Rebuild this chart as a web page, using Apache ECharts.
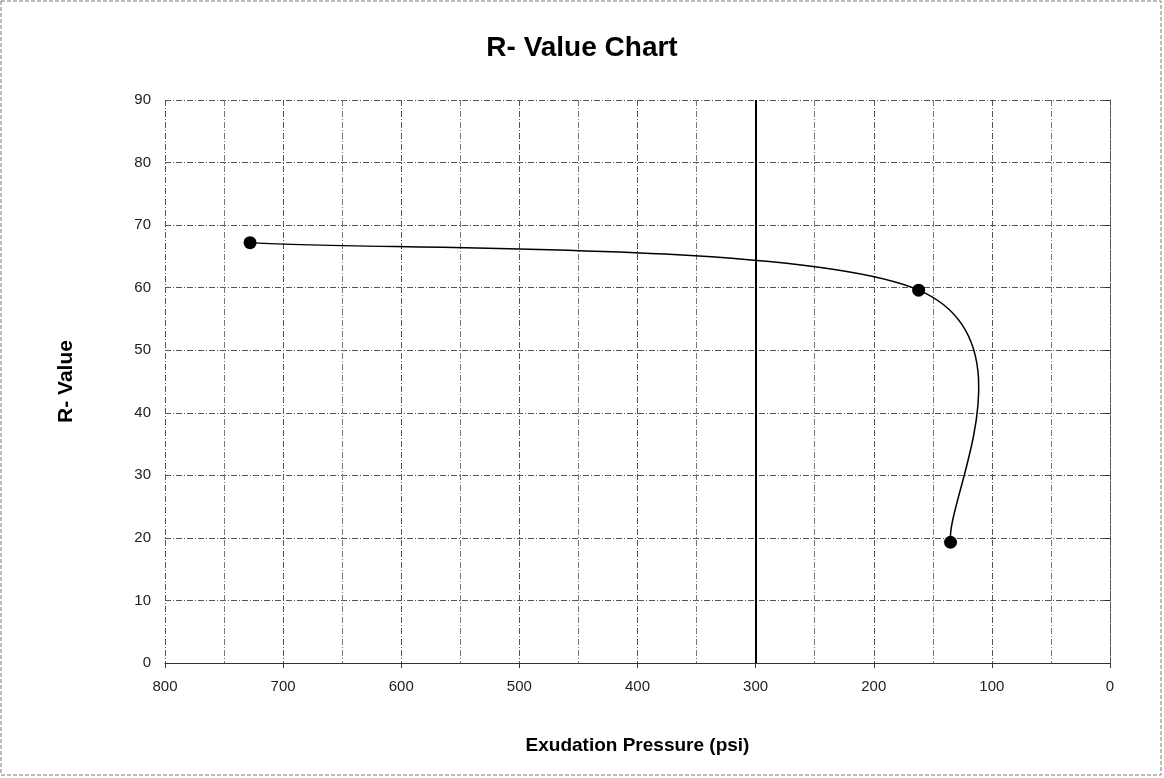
<!DOCTYPE html>
<html>
<head>
<meta charset="utf-8">
<title>R- Value Chart</title>
<script src="https://cdn.jsdelivr.net/npm/echarts@6/dist/echarts.min.js"></script>
<style>
  html, body { margin: 0; padding: 0; background: #fff; }
  #chart { width: 1164px; height: 778px; }
</style>
</head>
<body>
<div id="chart"></div>
<script>
// exudation pressure (psi) and R-value readings
var pressure = [728, 162, 135];
var rValue = [67.2, 59.6, 19.3];
var xTicks = [0, 100, 200, 300, 400, 500, 600, 700, 800];
var yTicks = [0, 10, 20, 30, 40, 50, 60, 70, 80, 90];

var points = [];
for (var i = 0; i < pressure.length; i++) {
  points.push([pressure[i], rValue[i]]);
}

// excel-style smoothed line: catmull-rom through the data points, in pixel space
function renderCurve(params, api) {
  if (params.dataIndex !== 0) return null;
  var p = [];
  for (var j = 0; j < pressure.length; j++) {
    p.push(api.coord([pressure[j], rValue[j]]));
  }
  var kids = [];
  for (var k = 0; k < p.length - 1; k++) {
    var a = p[k - 1] || p[k], b = p[k], c = p[k + 1], d = p[k + 2] || p[k + 1];
    kids.push({
      type: 'bezierCurve',
      shape: {
        x1: b[0], y1: b[1],
        cpx1: b[0] + (c[0] - a[0]) / 6, cpy1: b[1] + (c[1] - a[1]) / 6,
        cpx2: c[0] - (d[0] - b[0]) / 6, cpy2: c[1] - (d[1] - b[1]) / 6,
        x2: c[0], y2: c[1]
      },
      style: { stroke: '#000', lineWidth: 1.5, fill: null }
    });
  }
  return { type: 'group', children: kids };
}

var chart = echarts.init(document.getElementById('chart'));
var gridLine = { color: '#555', width: 1, type: [6, 2, 1, 2] };

chart.setOption({
  animation: false,
  title: {
    text: 'R- Value Chart',
    left: 'center',
    top: 29,
    textStyle: { fontFamily: 'Liberation Sans, Arial', fontSize: 28, fontWeight: 'bold', color: '#000' }
  },
  graphic: [{
    type: 'rect',
    shape: { x: 1, y: 1, width: 1160, height: 774 },
    style: { fill: 'none', stroke: '#777', lineWidth: 1, lineDash: [4, 2] }
  }],
  grid: { left: 165, right: 54, top: 100, bottom: 115 },
  xAxis: {
    type: 'value',
    inverse: true,
    min: xTicks[0],
    max: xTicks[xTicks.length - 1],
    interval: 100,
    name: 'Exudation Pressure (psi)',
    nameLocation: 'middle',
    nameGap: 73,
    nameTextStyle: { fontFamily: 'Liberation Sans, Arial', fontSize: 19, fontWeight: 'bold', color: '#000' },
    axisLine: { show: true, lineStyle: { color: '#333' } },
    axisTick: { show: true, length: 5, lineStyle: { color: '#333' } },
    axisLabel: { fontFamily: 'Liberation Sans, Arial', fontSize: 15, color: '#222', margin: 16 },
    splitLine: { show: true, lineStyle: gridLine },
    minorTick: { show: false, splitNumber: 2 },
    minorSplitLine: { show: true, lineStyle: { color: '#777', width: 1, type: [6, 2, 1, 2] } }
  },
  yAxis: {
    type: 'value',
    min: yTicks[0],
    max: yTicks[yTicks.length - 1],
    interval: 10,
    name: 'R- Value',
    nameLocation: 'middle',
    nameGap: 88,
    nameTextStyle: { fontFamily: 'Liberation Sans, Arial', fontSize: 21, fontWeight: 'bold', color: '#000' },
    axisLine: { show: true, lineStyle: { color: '#555', type: [6, 2, 1, 2] } },
    axisTick: { show: true, length: 5, lineStyle: { color: '#333' } },
    axisLabel: { fontFamily: 'Liberation Sans, Arial', fontSize: 15, color: '#222', margin: 14 },
    splitLine: { show: true, lineStyle: gridLine }
  },
  series: [{
    type: 'custom',
    data: points,
    encode: { x: 0, y: 1 },
    renderItem: renderCurve,
    silent: true,
    z: 2
  }, {
    type: 'scatter',
    data: points,
    symbol: 'circle',
    symbolSize: 13,
    itemStyle: { color: '#000', opacity: 1 },
    z: 3,
    markLine: {
      silent: true,
      symbol: 'none',
      label: { show: false },
      lineStyle: { color: '#000', width: 2, type: 'solid' },
      data: [{ xAxis: 300 }]
    }
  }]
});
</script>
</body>
</html>
